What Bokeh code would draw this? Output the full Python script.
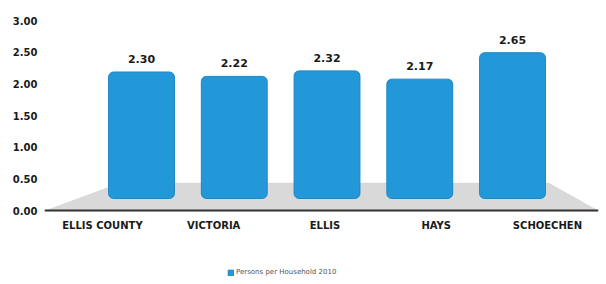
from bokeh.plotting import figure
from bokeh.models import (Range1d, FixedTicker, NumeralTickFormatter,
                          PolyAnnotation, Legend, LegendItem, ColumnDataSource)
from bokeh.core.properties import value
from bokeh.embed import file_html
from bokeh.resources import INLINE

# ---- data ----
categories = ["ELLIS COUNTY", "VICTORIA", "ELLIS", "HAYS", "SCHOECHEN"]
persons_per_household_2010 = [2.30, 2.22, 2.32, 2.17, 2.65]
y_ticks = [0.0, 0.5, 1.0, 1.5, 2.0, 2.5, 3.0]
series_name = "Persons per Household 2010"

FONT = "DejaVu Sans"
BLUE = "#2398d8"

idx = list(range(len(categories)))
src = ColumnDataSource(dict(
    x=idx,
    cat=categories,
    val=persons_per_household_2010,
    lbl=[f"{v:.2f}" for v in persons_per_household_2010],
))

# main x range = category label positions (front edge of 3D floor)
p = figure(width=604, height=282, output_backend="svg", toolbar_location=None,
           x_range=Range1d(-0.521, 4.459), y_range=Range1d(-1.126, 3),
           min_border_left=44, min_border_right=6, min_border_top=20, min_border_bottom=0)
p.outline_line_color = None
p.xgrid.visible = False
p.ygrid.visible = False
p.background_fill_color = "white"

# perspective ranges (back plane of the 3D look)
p.extra_y_ranges = {"bars": Range1d(-1.527, 3.236)}
p.extra_x_ranges = {"bars": Range1d(-1.046, 4.927)}

# floor
floor = PolyAnnotation(xs=[-0.521, 0.16, 4.01, 4.459], ys=[0, 0.44, 0.44, 0],
                       fill_color="#d9d9d9", fill_alpha=1.0,
                       line_color="#c8c8c8", line_width=1, level="underlay")
p.add_layout(floor)

bars = p.vbar(x="x", top="val", bottom=0, width=0.71, source=src,
              x_range_name="bars", y_range_name="bars",
              fill_color=BLUE, line_color="#1c86c4", line_width=1, border_radius=5)

p.text(x="x", y="val", text="lbl", source=src, x_range_name="bars", y_range_name="bars",
       text_align="center", text_baseline="bottom", y_offset=-9,
       text_font=value(FONT), text_font_style="bold", text_font_size="11px",
       text_color="#1a1a1a")

# y axis
ya = p.yaxis[0]
ya.ticker = FixedTicker(ticks=y_ticks)
ya.formatter = NumeralTickFormatter(format="0.00")
ya.axis_line_color = None
ya.major_tick_line_color = None
ya.minor_tick_line_color = None
ya.major_tick_out = 0
ya.major_tick_in = 0
ya.major_label_standoff = 7
ya.major_label_text_font = FONT
ya.major_label_text_font_style = "bold"
ya.major_label_text_font_size = "10px"
ya.major_label_text_color = "#1a1a1a"

# category axis, pinned to y = 0
xa = p.xaxis[0]
xa.fixed_location = 0
xa.ticker = FixedTicker(ticks=idx)
xa.major_label_overrides = {i: c for i, c in enumerate(categories)}
xa.axis_line_color = "#333333"
xa.axis_line_width = 2
xa.major_tick_line_color = None
xa.minor_tick_line_color = None
xa.major_tick_out = 0
xa.major_tick_in = 0
xa.major_label_standoff = 9
xa.major_label_text_font = FONT
xa.major_label_text_font_style = "bold"
xa.major_label_text_font_size = "10px"
xa.major_label_text_color = "#1a1a1a"

legend = Legend(items=[LegendItem(label=series_name, renderers=[bars])],
                location=(183, 6), orientation="horizontal",
                background_fill_alpha=0, border_line_color=None,
                padding=0, margin=0, spacing=0, glyph_width=7, glyph_height=7,
                label_standoff=2, label_text_font=FONT, label_text_font_size="7px",
                label_text_color="#555555")
p.add_layout(legend, "center")

open("out.html", "w").write(file_html(p, INLINE))
